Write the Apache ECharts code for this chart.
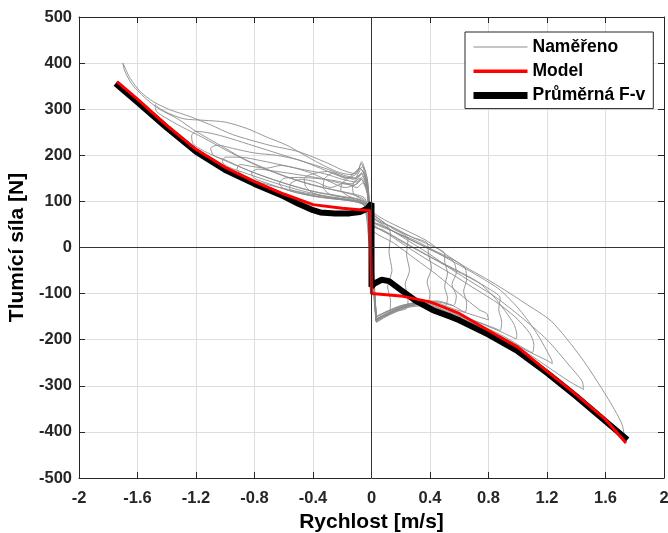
<!DOCTYPE html>
<html>
<head>
<meta charset="utf-8">
<script src="https://cdn.jsdelivr.net/npm/echarts@6/dist/echarts.min.js"></script>
<style>
html,body{margin:0;padding:0;background:#fff;}
#chart{width:668px;height:533px;}
</style>
</head>
<body>
<div id="chart"></div>
<script>
// ---- axis ticks ----
const xTicks = [-2, -1.6, -1.2, -0.8, -0.4, 0, 0.4, 0.8, 1.2, 1.6, 2];
const yTicks = [-500, -400, -300, -200, -100, 0, 100, 200, 300, 400, 500];

// ---- Model (red) ----
const modelV = [-1.74, -1.6, -1.4, -1.2, -1.0, -0.8, -0.6, -0.4, -0.2, -0.01, 0, 0.2, 0.4, 0.6, 0.8, 1.0, 1.2, 1.4, 1.6, 1.74];
const modelF = [360, 322, 265, 213, 174, 143, 116, 93, 85, 80, -100, -105, -118, -143, -180, -216, -268, -319, -373, -424];

// ---- Average F-v (black) ----
const avgV = [-1.75, -1.6, -1.4, -1.2, -1.0, -0.8, -0.6, -0.5, -0.4, -0.35, -0.25, -0.15, -0.08, -0.03, 0, 0, 0.02, 0.07, 0.12, 0.2, 0.3, 0.42, 0.54, 0.6, 0.8, 1.0, 1.2, 1.4, 1.6, 1.75];
const avgF = [356, 315, 260, 208, 168, 138, 111, 95, 81, 76, 74, 74, 77, 84, 96, -85, -78, -70, -73, -92, -115, -136, -150, -158, -189, -225, -272, -323, -377, -417];

// ---- Measured loops (gray), [v, F] ----
const measured1 = [[0.03,-160],[0.08,-150],[0.14,-142],[0.25,-130],[0.37,-126],[0.5,-142],[0.7,-170],[0.9,-203],[1.1,-243],[1.3,-290],[1.5,-343],[1.65,-388],[1.73,-410],
 [1.71,-381],[1.61,-324],[1.43,-237],[1.23,-160],[1.05,-121],[0.91,-92],[0.78,-67],[0.64,-42],[0.5,-13],[0.37,16],[0.23,38],[0.09,60],[0.0,81],
 [-0.03,135],[-0.07,182],[-0.11,160],[-0.2,168],[-0.3,183],[-0.5,208],[-0.7,222],[-0.95,245],[-1.1,266],[-1.24,284],[-1.38,299],[-1.49,316],[-1.58,338],[-1.65,367],[-1.70,400],
 [-1.69,385],[-1.64,355],[-1.55,325],[-1.45,300],[-1.33,280],[-1.195,251],[-1.036,222],[-0.877,193],[-0.7,168],[-0.5,145],[-0.3,128],[-0.15,118],[-0.05,108],[-0.02,80],[0.0,0],[0.02,-100],[0.03,-160]];
const measured2 = [[0.03,-158],[0.1,-146],[0.2,-133],[0.33,-124],[0.45,-132],[0.6,-152],[0.8,-180],[1.0,-215],[1.2,-258],[1.35,-290],[1.45,-308],
 [1.44,-290],[1.35,-255],[1.2,-200],[1.02,-150],[0.85,-108],[0.7,-78],[0.55,-48],[0.4,-15],[0.25,15],[0.1,45],[0.0,70],
 [-0.04,150],[-0.08,172],[-0.14,158],[-0.24,165],[-0.4,190],[-0.58,222],[-0.72,240],[-0.85,258],[-1.0,272],[-1.15,276],[-1.28,279],[-1.38,290],[-1.45,302],[-1.48,310],
 [-1.47,295],[-1.4,280],[-1.3,262],[-1.15,238],[-1.0,212],[-0.8,180],[-0.6,155],[-0.4,135],[-0.25,124],[-0.1,112],[-0.04,100],[-0.01,40],[0.01,-80],[0.03,-158]];
const measured3 = [[0.035,-162],[0.1,-148],[0.22,-130],[0.35,-122],[0.5,-138],[0.7,-165],[0.9,-195],[1.05,-222],[1.2,-245],[1.236,-252],
 [1.232,-244],[1.13,-186],[1.015,-136],[0.879,-92],[0.742,-64],[0.6,-38],[0.45,-12],[0.3,12],[0.15,35],[0.0,62],
 [-0.03,140],[-0.06,165],[-0.1,150],[-0.2,158],[-0.32,172],[-0.45,185],[-0.6,200],[-0.8,220],[-0.98,238],[-1.1,248],[-1.2,252],[-1.23,242],[-1.22,225],
 [-1.15,210],[-1.0,188],[-0.8,162],[-0.6,140],[-0.4,122],[-0.22,112],[-0.08,103],[-0.03,90],[0.0,20],[0.02,-90],[0.035,-162]];
const measured4 = [[0.03,-155],[0.1,-145],[0.2,-130],[0.32,-120],[0.45,-125],[0.6,-148],[0.75,-165],[0.9,-185],[0.99,-198],
 [0.993,-188],[0.97,-164],[0.856,-114],[0.742,-78],[0.6,-52],[0.45,-28],[0.3,-2],[0.15,25],[0.0,52],
 [-0.03,130],[-0.06,155],[-0.1,142],[-0.2,148],[-0.32,160],[-0.45,168],[-0.6,178],[-0.75,188],[-0.9,196],[-1.0,196],[-1.02,186],[-0.98,175],
 [-0.85,160],[-0.7,144],[-0.5,125],[-0.32,112],[-0.15,104],[-0.05,96],[-0.01,30],[0.015,-80],[0.03,-155]];
const measured5 = [[0.035,-150],[0.1,-140],[0.2,-128],[0.3,-120],[0.42,-118],[0.55,-132],[0.68,-145],[0.8,-157],
 [0.788,-143],[0.742,-136],[0.6,-100],[0.45,-60],[0.3,-25],[0.15,10],[0.0,40],
 [-0.03,120],[-0.07,148],[-0.12,135],[-0.22,140],[-0.35,150],[-0.5,158],[-0.65,165],[-0.78,170],[-0.82,162],[-0.8,150],
 [-0.7,138],[-0.55,122],[-0.4,112],[-0.25,106],[-0.12,100],[-0.05,92],[-0.02,40],[0.01,-60],[0.035,-150]];
const measured6 = [[0.03,-152],[0.1,-140],[0.2,-127],[0.32,-118],[0.45,-116],[0.55,-125],[0.64,-140],
 [0.65,-120],[0.63,-95],[0.65,-70],[0.64,-45],
 [0.55,-25],[0.42,-5],[0.3,15],[0.15,35],[0.0,58],
 [-0.03,125],[-0.08,150],[-0.14,138],[-0.25,145],[-0.38,150],[-0.5,152],[-0.6,150],[-0.63,138],
 [-0.6,128],[-0.5,118],[-0.38,110],[-0.25,105],[-0.12,100],[-0.05,90],[-0.02,20],[0.01,-80],[0.03,-152]];
const measured7 = [[0.035,-158],[0.1,-146],[0.2,-132],[0.32,-122],[0.42,-120],[0.5,-128],
 [0.52,-110],[0.5,-85],[0.52,-55],[0.5,-30],[0.5,-13],
 [0.4,5],[0.28,22],[0.14,45],[0.0,66],
 [-0.03,140],[-0.07,170],[-0.12,148],[-0.2,155],[-0.3,165],[-0.4,160],[-0.46,150],
 [-0.45,132],[-0.4,118],[-0.3,110],[-0.18,104],[-0.08,98],[-0.03,85],[0.0,0],[0.02,-90],[0.035,-158]];
const measured8 = [[0.03,-160],[0.1,-146],[0.2,-132],[0.3,-124],[0.38,-122],
 [0.4,-100],[0.38,-75],[0.41,-45],[0.39,-15],[0.38,10],
 [0.28,22],[0.15,42],[0.0,72],
 [-0.03,150],[-0.068,186],[-0.1,160],[-0.18,150],[-0.26,162],[-0.32,150],
 [-0.33,130],[-0.28,115],[-0.18,108],[-0.08,100],[-0.03,88],[0.0,10],[0.02,-100],[0.03,-160]];
const measured9 = [[0.035,-162],[0.1,-150],[0.18,-138],[0.24,-132],
 [0.25,-110],[0.23,-80],[0.26,-50],[0.24,-15],[0.25,20],
 [0.15,40],[0.07,58],[0.0,78],
 [-0.03,150],[-0.06,175],[-0.1,165],[-0.16,150],[-0.2,140],
 [-0.21,125],[-0.16,112],[-0.1,105],[-0.04,95],[0.0,0],[0.02,-110],[0.035,-162]];
const measured10 = [[0.03,-158],[0.07,-150],[0.12,-145],
 [0.13,-115],[0.11,-85],[0.14,-50],[0.12,-10],[0.13,30],[0.1,50],
 [0.05,62],[0.0,76],
 [-0.03,140],[-0.06,160],[-0.1,150],[-0.13,132],
 [-0.12,115],[-0.07,105],[-0.03,95],[0.0,0],[0.02,-100],[0.03,-158]];
const measured11 = [[0.03,-156],[0.1,-144],[0.22,-129],[0.36,-121],[0.5,-136],[0.7,-162],[0.9,-192],[1.05,-220],[1.1,-228],
 [1.11,-210],[1.08,-185],
 [0.98,-150],[0.85,-118],[0.7,-88],[0.55,-58],[0.4,-30],[0.25,0],[0.12,28],[0.0,55],
 [-0.03,128],[-0.07,160],[-0.12,150],[-0.22,155],[-0.35,172],[-0.5,190],[-0.65,200],[-0.8,205],[-0.95,215],[-1.05,222],[-1.1,215],[-1.08,200],
 [-1.0,190],[-0.85,168],[-0.7,150],[-0.5,130],[-0.35,118],[-0.2,110],[-0.08,104],[-0.03,92],[0.0,10],[0.02,-95],[0.03,-156]];
const measured12 = [[0.035,-155],[0.1,-143],[0.2,-129],[0.3,-121],[0.42,-121],[0.55,-138],[0.7,-158],[0.85,-176],[0.88,-180],
 [0.89,-160],[0.87,-135],[0.88,-110],
 [0.78,-85],[0.65,-62],[0.5,-38],[0.35,-12],[0.2,14],[0.08,38],[0.0,48],
 [-0.03,122],[-0.06,150],[-0.1,138],[-0.18,130],[-0.28,142],[-0.4,160],[-0.52,172],[-0.62,178],[-0.72,172],[-0.82,176],[-0.9,180],[-0.92,170],[-0.88,158],
 [-0.75,140],[-0.6,128],[-0.45,118],[-0.3,110],[-0.15,103],[-0.05,94],[-0.01,30],[0.015,-85],[0.035,-155]];
const measured13 = [[0.03,-150],[0.1,-139],[0.2,-126],[0.32,-119],[0.45,-118],[0.56,-126],
 [0.58,-105],[0.55,-80],[0.58,-55],[0.56,-30],
 [0.45,-12],[0.32,8],[0.18,30],[0.06,50],[0.0,55],
 [-0.03,118],[-0.06,140],[-0.1,130],[-0.18,140],[-0.28,130],[-0.38,142],[-0.48,148],[-0.55,140],[-0.56,128],
 [-0.5,120],[-0.4,113],[-0.3,107],[-0.18,103],[-0.08,97],[-0.03,88],[0.0,0],[0.02,-80],[0.03,-150]];
const measuredLoops = [measured1, measured2, measured3, measured4, measured5, measured6, measured7, measured8, measured9, measured10, measured11, measured12, measured13];

const FONT = "'Liberation Sans', Arial, Helvetica, sans-serif";
const AX = '#262626';
const NOFILL = 'rgba(0,0,0,0)';

const pair = (xs, ys) => xs.map((x, i) => [x, ys[i]]);

const series = [];
measuredLoops.forEach((loop) => {
  series.push({
    name: 'Naměřeno', type: 'line', data: loop, symbol: 'none', showSymbol: false,
    smooth: 0.25, lineStyle: { color: '#8c8c8c', width: 0.9 }, itemStyle: { color: NOFILL, borderWidth: 0 },
    z: 2, silent: true
  });
});
series.push({
  name: 'zero', type: 'line', data: [], symbol: 'none', z: 1, silent: true,
  markLine: {
    silent: true, symbol: 'none', label: { show: false },
    lineStyle: { color: '#333', width: 1, type: 'solid' },
    data: [{ xAxis: 0 }, { yAxis: 0 }]
  }
});
series.push({
  name: 'Průměrná F-v', type: 'line', data: pair(avgV, avgF), symbol: 'none',
  lineStyle: { color: '#000', width: 6 }, itemStyle: { color: NOFILL, borderWidth: 0 }, z: 3, silent: true
});
series.push({
  name: 'Model', type: 'line', data: pair(modelV, modelF), symbol: 'none',
  lineStyle: { color: '#ff0000', width: 3 }, itemStyle: { color: NOFILL, borderWidth: 0 }, z: 4, silent: true
});

const chart = echarts.init(document.getElementById('chart'), null, { renderer: 'canvas' });
chart.setOption({
  animation: false,
  backgroundColor: '#fff',
  textStyle: { fontFamily: FONT },
  grid: { left: 79, right: 4, top: 17, bottom: 55, containLabel: false, outerBoundsMode: 'none' },
  legend: {
    show: true,
    data: [
      { name: 'Naměřeno', lineStyle: { width: 1 } },
      { name: 'Model', lineStyle: { width: 3.5 } },
      { name: 'Průměrná F-v', lineStyle: { width: 7 } }
    ],
    orient: 'vertical', left: 465, top: 32,
    padding: [6, 8, 4, 5], itemGap: 6.3, itemWidth: 54, itemHeight: 14,
    borderColor: AX, borderWidth: 1, backgroundColor: '#fff',
    itemStyle: { opacity: 0 },
    textStyle: { fontFamily: FONT, fontWeight: 'bold', fontSize: 17.5, lineHeight: 17, color: '#000' },
    selectedMode: false
  },
  xAxis: [
    {
      type: 'value', min: xTicks[0], max: xTicks[xTicks.length - 1], interval: 0.4,
      position: 'bottom',
      name: 'Rychlost [m/s]', nameLocation: 'middle', nameGap: 30,
      nameTextStyle: { fontFamily: FONT, fontWeight: 'bold', fontSize: 21, color: '#000' },
      axisLine: { show: true, onZero: false, lineStyle: { color: AX, width: 1 } },
      axisTick: { show: true, inside: true, length: 6, lineStyle: { color: AX } },
      axisLabel: { show: true, margin: 12, fontFamily: FONT, fontWeight: 'bold', fontSize: 16.5, color: AX,
        formatter: (v) => String(Math.round(v * 10) / 10) },
      splitLine: { show: true, lineStyle: { color: '#dedede', width: 1 } }
    },
    {
      type: 'value', min: xTicks[0], max: xTicks[xTicks.length - 1], interval: 0.4, position: 'top',
      axisLine: { show: true, onZero: false, lineStyle: { color: AX, width: 1 } },
      axisTick: { show: true, inside: true, length: 6, lineStyle: { color: AX } },
      axisLabel: { show: false }, splitLine: { show: false }
    }
  ],
  yAxis: [
    {
      type: 'value', min: yTicks[0], max: yTicks[yTicks.length - 1], interval: 100,
      position: 'left',
      name: 'Tlumící síla [N]', nameLocation: 'middle', nameGap: 46, nameRotate: 90,
      nameTextStyle: { fontFamily: FONT, fontWeight: 'bold', fontSize: 21, color: '#000' },
      axisLine: { show: true, onZero: false, lineStyle: { color: AX, width: 1 } },
      axisTick: { show: true, inside: true, length: 6, lineStyle: { color: AX } },
      axisLabel: { show: true, margin: 7, fontFamily: FONT, fontWeight: 'bold', fontSize: 16.5, color: AX },
      splitLine: { show: true, lineStyle: { color: '#dedede', width: 1 } }
    },
    {
      type: 'value', min: yTicks[0], max: yTicks[yTicks.length - 1], interval: 100, position: 'right',
      axisLine: { show: true, onZero: false, lineStyle: { color: AX, width: 1 } },
      axisTick: { show: true, inside: true, length: 6, lineStyle: { color: AX } },
      axisLabel: { show: false }, splitLine: { show: false }
    }
  ],
  series: series
});
</script>
</body>
</html>
